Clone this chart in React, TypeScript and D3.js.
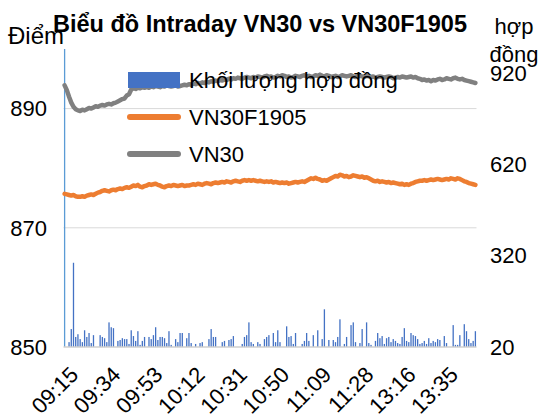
import React from "react";
import * as d3 from "d3";

// trading sessions (1-minute categories)
const sessions = [
  ["09:15", "11:30"],
  ["13:00", "13:49"],
];

const xTickLabels = ["09:15", "09:34", "09:53", "10:12", "10:31", "10:50", "11:09", "11:28", "13:16", "13:35"];
const leftTicks = [850, 870, 890];
const rightTicks = [20, 320, 620, 920];

// Khối lượng hợp đồng (per minute)
const volume = [
  2480, 15, 36, 79, 297, 53, 62, 46, 36, 75,
  53, 66, 33, 59, 14, 17, 59, 53, 49, 36,
  101, 85, 82, 12, 40, 43, 49, 46, 46, 30,
  75, 56, 40, 72, 27, 40, 53, 16, 53, 46,
  59, 85, 43, 53, 53, 49, 33, 72, 27, 18,
  46, 36, 66, 66, 13, 49, 66, 33, 17, 30,
  15, 33, 36, 19, 14, 46, 79, 53, 53, 16,
  12, 36, 40, 18, 43, 46, 56, 15, 13, 17,
  30, 53, 59, 101, 36, 30, 14, 36, 30, 16,
  46, 53, 59, 18, 66, 36, 75, 36, 12, 15,
  88, 53, 56, 30, 66, 17, 13, 30, 40, 66,
  40, 16, 59, 14, 75, 18, 46, 144, 15, 43,
  12, 43, 36, 53, 111, 17, 30, 53, 14, 92,
  101, 36, 16, 33, 79, 13, 101, 33, 27, 18,
  40, 66, 49, 56, 30, 49, 53, 36, 46, 40,
  33, 30, 53, 82, 40, 36, 66, 59, 56, 46,
  30, 33, 40, 30, 49, 33, 40, 36, 46, 43,
  15, 56, 33, 17, 12, 92, 27, 27, 59, 16,
  95, 72, 46, 33, 40, 72,
];

const vn30F1905 = [
  875.7, 875.6, 875.5, 875.4, 875.5, 875.3, 875.2, 875.2, 875.3, 875.2,
  875.4, 875.5, 875.6, 875.5, 875.7, 875.9, 876.0, 876.2, 876.3, 876.2,
  876.1, 876.3, 876.4, 876.3, 876.5, 876.6, 876.5, 876.7, 876.8, 876.7,
  876.9, 877.1, 877.0, 877.2, 876.9, 876.8, 877.0, 877.1, 877.3, 877.2,
  877.3, 877.4, 877.2, 877.1, 876.9, 876.8, 877.0, 877.1, 877.0, 877.2,
  877.1, 877.0, 877.1, 877.2, 877.0, 877.1, 877.1, 877.2, 877.3, 877.2,
  877.4, 877.3, 877.2, 877.4, 877.5, 877.4, 877.3, 877.5, 877.6, 877.5,
  877.6, 877.7, 877.6, 877.8, 877.7, 877.6, 877.8, 877.9, 877.8, 877.7,
  877.9, 878.0, 877.9, 878.0, 877.9, 878.0, 877.9, 877.8, 877.9, 877.8,
  877.7, 877.8, 877.7, 877.8, 877.6, 877.7, 877.6, 877.5, 877.6, 877.5,
  877.6, 877.4, 877.5, 877.6, 877.7, 877.6, 877.7, 877.8, 877.7, 877.9,
  878.1, 878.3, 878.2, 878.4, 878.2, 878.1, 877.9, 878.0, 877.9, 878.1,
  878.3, 878.5, 878.7, 878.6, 878.9, 878.8, 878.6, 878.7, 878.5, 878.6,
  878.8, 878.7, 878.6, 878.5, 878.6, 878.4, 878.5, 878.3, 878.1, 877.9,
  877.8, 877.9, 877.7, 877.8, 877.7, 877.6, 877.7, 877.5, 877.6, 877.5,
  877.4, 877.3, 877.4, 877.2, 877.3, 877.2, 877.4, 877.5, 877.7, 877.8,
  877.9, 877.9, 878.0, 877.9, 878.0, 878.1, 878.0, 878.1, 878.2, 878.1,
  878.0, 878.1, 878.2, 878.1, 878.3, 878.2, 878.1, 878.3, 878.2, 878.0,
  877.8, 877.7, 877.5, 877.4, 877.3, 877.2,
];

const vn30 = [
  893.9, 893.1, 892.0, 891.0, 890.3, 889.9, 889.7, 889.6, 889.8, 889.7,
  889.9, 890.1, 890.0, 890.2, 890.4, 890.3, 890.5, 890.6, 890.5, 890.7,
  890.8, 890.7, 890.9, 891.0, 891.2, 891.4, 891.6, 891.7, 892.2, 892.4,
  893.2, 893.4, 893.3, 893.5, 893.4, 893.6, 893.5, 893.6, 893.5, 893.7,
  893.6, 893.8, 893.7, 893.6, 893.8, 893.7, 893.9, 893.8, 893.7, 893.8,
  893.9, 893.7, 893.8, 893.9, 894.0, 893.9, 894.1, 894.0, 894.2, 894.1,
  894.3, 894.2, 894.4, 894.3, 894.5, 894.4, 894.6, 894.5, 894.7, 894.6,
  894.8, 894.7, 894.9, 894.8, 895.0, 894.9, 895.1, 895.0, 895.2, 895.1,
  895.0, 895.2, 895.3, 895.2, 895.1, 895.3, 895.2, 895.4, 895.3, 895.2,
  895.4, 895.5, 895.3, 895.4, 895.2, 895.3, 895.5, 895.4, 895.6, 895.5,
  895.3, 895.4, 895.2, 895.3, 895.5, 895.4, 895.3, 895.5, 895.6, 895.4,
  895.5, 895.3, 895.4, 895.6, 895.5, 895.7, 895.5, 895.4, 895.6, 895.5,
  895.3, 895.4, 895.5, 895.3, 895.4, 895.6, 895.5, 895.4, 895.5, 895.6,
  895.4, 895.3, 895.4, 895.5, 895.4, 895.3, 895.5, 895.4, 895.3, 895.4,
  895.2, 895.3, 895.4, 895.3, 895.2, 895.3, 895.4, 895.3, 895.1, 895.2,
  895.3, 895.2, 895.4, 895.3, 895.2, 895.3, 895.4, 895.2, 895.3, 895.1,
  895.0, 894.8, 894.9, 894.7, 894.8, 894.6, 894.8, 894.7, 894.9, 895.0,
  894.8, 894.9, 895.1, 895.0, 894.9, 895.1, 895.2, 895.0, 894.9, 895.0,
  894.8, 894.7, 894.6, 894.5, 894.4, 894.3,
];

function buildTimes(): string[] {
  const parse = d3.timeParse("%H:%M");
  const fmt = d3.timeFormat("%H:%M");
  const out: string[] = [];
  sessions.forEach(([a, b]) => {
    const start = parse(a) as Date;
    const end = d3.timeMinute.offset(parse(b) as Date, 1);
    d3.timeMinutes(start, end).forEach((t) => out.push(fmt(t)));
  });
  return out;
}

const times = buildTimes();

const W = 543;
const H = 419;
const plot = { left: 63.5, right: 476.5, top: 49, bottom: 347 };
const font = "'Liberation Sans', Arial, sans-serif";

export default function App() {
  const x = d3.scaleBand<string>().domain(times).range([plot.left, plot.right]);
  const bw = x.bandwidth();
  const cx = (t: string) => (x(t) as number) + bw / 2;
  const yL = d3.scaleLinear().domain([850, 900]).range([plot.bottom, plot.top]);
  const yR = d3.scaleLinear().domain([20, 1000]).range([plot.bottom, plot.top]);

  const line = (vals: number[]) =>
    d3
      .line<number>()
      .x((_, i) => cx(times[i]))
      .y((d) => yL(d))(vals) as string;

  return (
    <svg
      width={W}
      height={H}
      style={{ position: "fixed", left: 0, top: 0, background: "#fff" }}
      fontFamily={font}
    >
      <defs>
        <clipPath id="plotClip">
          <rect x={plot.left - 2} y={plot.top} width={plot.right - plot.left + 4} height={plot.bottom - plot.top} />
        </clipPath>
      </defs>

      {/* gridlines */}
      {leftTicks.slice(1).map((t) => (
        <line key={t} x1={plot.left} x2={plot.right} y1={yL(t)} y2={yL(t)} stroke="#d9d9d9" strokeWidth={1} />
      ))}

      {/* volume bars */}
      <g clipPath="url(#plotClip)">
        {times.map((t, i) =>
          volume[i] > 20 ? (
            <rect
              key={t}
              x={cx(t) - 0.65}
              width={1.3}
              y={yR(volume[i])}
              height={yR(20) - yR(volume[i])}
              fill={i === 0 ? "#5b9bd5" : "#4472c4"}
            />
          ) : null
        )}
      </g>

      <line x1={plot.left} x2={plot.right} y1={plot.bottom} y2={plot.bottom} stroke="#cfcfcf" strokeWidth={1.5} />

      {/* lines */}
      <path d={line(vn30F1905)} fill="none" stroke="#ed7d31" strokeWidth={4.5} strokeLinejoin="round" strokeLinecap="round" />
      <path d={line(vn30)} fill="none" stroke="#808080" strokeWidth={4.5} strokeLinejoin="round" strokeLinecap="round" />

      {/* left axis labels */}
      {leftTicks.map((t) => (
        <text key={t} x={47} y={yL(t)} dy="0.35em" textAnchor="end" fontSize={22} fill="#000">
          {t}
        </text>
      ))}
      {/* right axis labels */}
      {rightTicks.map((t) => (
        <text key={t} x={490} y={yR(t)} dy="0.35em" textAnchor="start" fontSize={22} fill="#000">
          {t}
        </text>
      ))}

      {/* x axis labels */}
      {xTickLabels.map((t) => (
        <text
          key={t}
          transform={`translate(${cx(t) + 15},376) rotate(-45)`}
          textAnchor="end"
          fontSize={22}
          fill="#000"
        >
          {t}
        </text>
      ))}

      {/* axis titles */}
      <text x={8} y={44} fontSize={24} fill="#000">Điểm</text>
      <text x={514} y={34} fontSize={22} textAnchor="middle" fill="#000">hợp</text>
      <text x={514} y={62} fontSize={22} textAnchor="middle" fill="#000">đồng</text>

      {/* title */}
      <text x={260} y={32} fontSize={23.5} fontWeight="bold" textAnchor="middle" fill="#000">
        Biểu đồ Intraday VN30 vs VN30F1905
      </text>

      {/* legend */}
      <rect x={128} y={72} width={52} height={16} fill="#4472c4" />
      <text x={189} y={80} dy="0.35em" fontSize={22} fill="#000">Khối lượng hợp đồng</text>
      <line x1={130} x2={178} y1={117} y2={117} stroke="#ed7d31" strokeWidth={6} strokeLinecap="round" />
      <text x={189} y={117} dy="0.35em" fontSize={22} fill="#000">VN30F1905</text>
      <line x1={130} x2={178} y1={154} y2={154} stroke="#808080" strokeWidth={6} strokeLinecap="round" />
      <text x={189} y={154} dy="0.35em" fontSize={22} fill="#000">VN30</text>
    </svg>
  );
}
